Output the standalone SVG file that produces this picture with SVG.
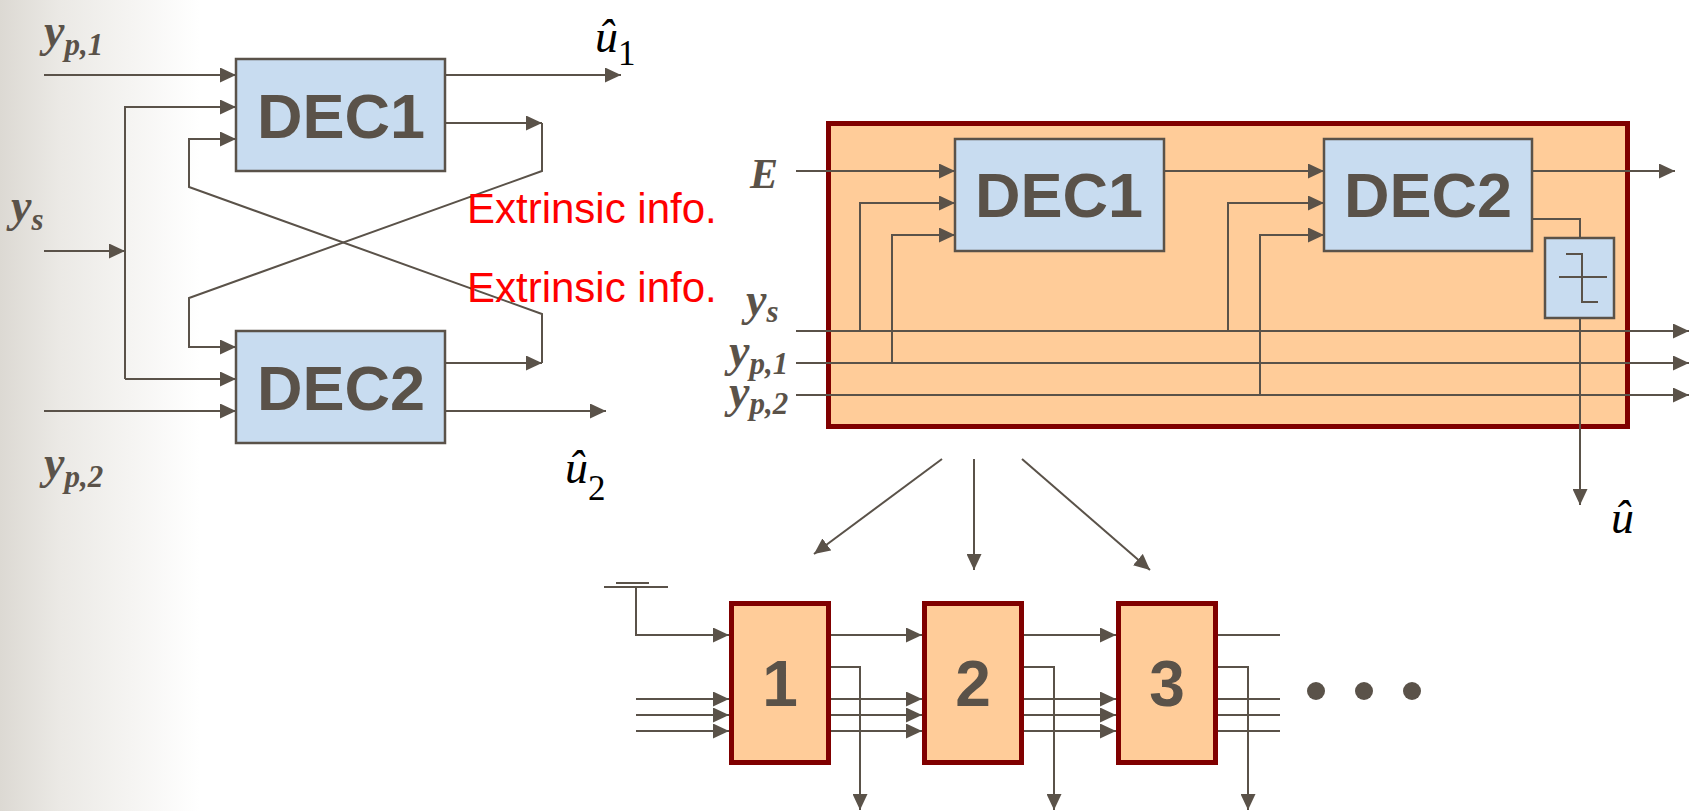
<svg xmlns="http://www.w3.org/2000/svg" width="1689" height="811" viewBox="0 0 1689 811">
<defs>
<linearGradient id="bg" x1="0" y1="0" x2="200" y2="0" gradientUnits="userSpaceOnUse">
<stop offset="0" stop-color="#dcd9d3"/>
<stop offset="0.3" stop-color="#ebe9e5"/>
<stop offset="1" stop-color="#ffffff"/>
</linearGradient>
<marker id="ar" viewBox="0 0 16 15" refX="16" refY="7.5" markerWidth="16" markerHeight="15" orient="auto" markerUnits="userSpaceOnUse"><path d="M0,0 L16,7.5 L0,15 z" fill="#5a5249"/></marker>
</defs>
<style>
.w{fill:none;stroke:#5a5249;stroke-width:2}
.a{marker-end:url(#ar)}
.dec{fill:#c8dcf0;stroke:#5a5249;stroke-width:2.5}
.blk{fill:#ffcc99;stroke:#800000;stroke-width:5}
.dl{font-family:"Liberation Sans",Arial,sans-serif;font-weight:bold;font-size:63px;fill:#5a5249;text-anchor:middle}
.m{font-family:"Liberation Serif","Times New Roman",serif;font-style:italic;font-weight:bold;font-size:46px;fill:#5a5249}
.s{font-size:31px}
.u{font-family:"Liberation Serif","Times New Roman",serif;font-style:italic;font-size:46px;fill:#000}
.us{font-style:normal;font-size:35px}
.ex{font-family:"Liberation Sans",Arial,sans-serif;font-size:42px;fill:#ff0000}
</style>
<rect x="0" y="0" width="1689" height="811" fill="#ffffff"/>
<rect x="0" y="0" width="200" height="811" fill="url(#bg)"/>

<g id="turbo-block">
<rect class="blk" x="828.5" y="123.5" width="799" height="303"/>
</g>

<g id="connectors">
<path class="w a" d="M44,75 H236"/>
<path class="w a" d="M125,379 V107 H236"/>
<path class="w a" d="M125,379 H236"/>
<path class="w a" d="M44,251 H125"/>
<path class="w a" d="M446,123 H542"/>
<path class="w a" d="M542,123 V171 L189,298 V347 H236"/>
<path class="w a" d="M446,363 H542"/>
<path class="w a" d="M542,363 V314 L189,187 V139 H236"/>
<path class="w a" d="M446,75 H621"/>
<path class="w a" d="M446,411 H606"/>
<path class="w a" d="M44,411 H236"/>
<path class="w a" d="M796,171 H955"/>
<path class="w a" d="M860,331 V203 H955"/>
<path class="w a" d="M892,363 V235 H955"/>
<path class="w a" d="M1164,171 H1324"/>
<path class="w a" d="M1228,331 V203 H1324"/>
<path class="w a" d="M1260,395 V235 H1324"/>
<path class="w a" d="M1532,171 H1675"/>
<path class="w" d="M1532,219 H1580 V238"/>
<path class="w a" d="M1580,318 V505"/>
<path class="w a" d="M796,331 H1689"/>
<path class="w a" d="M796,363 H1689"/>
<path class="w a" d="M796,395 H1689"/>
<path class="w a" d="M942,459 L814,554"/>
<path class="w a" d="M974,459 V570"/>
<path class="w a" d="M1022,459 L1150,570"/>
<path class="w" d="M604,587 H668 M616,583 H649"/>
<path class="w a" d="M636,587 V635 H729"/>
<path class="w a" d="M831,635 H922"/>
<path class="w a" d="M1024,635 H1116"/>
<path class="w" d="M1218,635 H1280"/>
<path class="w a" d="M636,699 H729"/>
<path class="w a" d="M636,715 H729"/>
<path class="w a" d="M636,731 H729"/>
<path class="w a" d="M831,699 H922"/>
<path class="w a" d="M831,715 H922"/>
<path class="w a" d="M831,731 H922"/>
<path class="w a" d="M1024,699 H1116"/>
<path class="w a" d="M1024,715 H1116"/>
<path class="w a" d="M1024,731 H1116"/>
<path class="w" d="M1218,699 H1280 M1218,715 H1280 M1218,731 H1280"/>
<path class="w a" d="M831,667 H860 V810"/>
<path class="w a" d="M1024,667 H1054 V810"/>
<path class="w a" d="M1218,667 H1248 V810"/>
</g>

<g id="dec1-left">
<rect class="dec" x="236" y="59" width="209" height="112"/>
<text class="dl" x="341" y="138">DEC1</text>
</g>
<g id="dec2-left">
<rect class="dec" x="236" y="331" width="209" height="112"/>
<text class="dl" x="341" y="410">DEC2</text>
</g>
<g id="dec1-right">
<rect class="dec" x="955" y="139" width="209" height="112"/>
<text class="dl" x="1059" y="217">DEC1</text>
</g>
<g id="dec2-right">
<rect class="dec" x="1324" y="139" width="208" height="112"/>
<text class="dl" x="1428" y="217">DEC2</text>
</g>
<g id="decision">
<rect class="dec" x="1545" y="238" width="69" height="80"/>
<path class="w" d="M1566,254 H1582 V302 H1598 M1559,277 H1607"/>
</g>

<g id="stage1">
<rect class="blk" x="731.5" y="603.5" width="97" height="159"/>
<text class="dl" x="780" y="706" style="font-size:64px">1</text>
</g>
<g id="stage2">
<rect class="blk" x="924.5" y="603.5" width="97" height="159"/>
<text class="dl" x="973" y="706" style="font-size:64px">2</text>
</g>
<g id="stage3">
<rect class="blk" x="1118.5" y="603.5" width="97" height="159"/>
<text class="dl" x="1167" y="706" style="font-size:64px">3</text>
</g>
<g id="dots" fill="#5a5249">
<circle cx="1316" cy="691" r="9"/>
<circle cx="1364" cy="691" r="9"/>
<circle cx="1412" cy="691" r="9"/>
</g>

<g id="labels">
<text class="m" x="44" y="46">y<tspan class="s" dy="9">p,1</tspan></text>
<text class="m" x="11" y="221">y<tspan class="s" dy="9">s</tspan></text>
<text class="m" x="44" y="478">y<tspan class="s" dy="9">p,2</tspan></text>
<text class="m" x="750" y="188" style="font-size:42px">E</text>
<text class="m" x="746" y="315">y<tspan class="s" dy="7">s</tspan></text>
<text class="m" x="729" y="366">y<tspan class="s" dy="8">p,1</tspan></text>
<text class="m" x="729" y="407">y<tspan class="s" dy="7">p,2</tspan></text>
<text class="u" x="595" y="52">û<tspan class="us" dy="13">1</tspan></text>
<text class="u" x="565" y="483">û<tspan class="us" dy="17">2</tspan></text>
<text class="u" x="1611" y="533">û</text>
<text class="ex" x="467" y="223">Extrinsic info.</text>
<text class="ex" x="467" y="302">Extrinsic info.</text>
</g>
</svg>
